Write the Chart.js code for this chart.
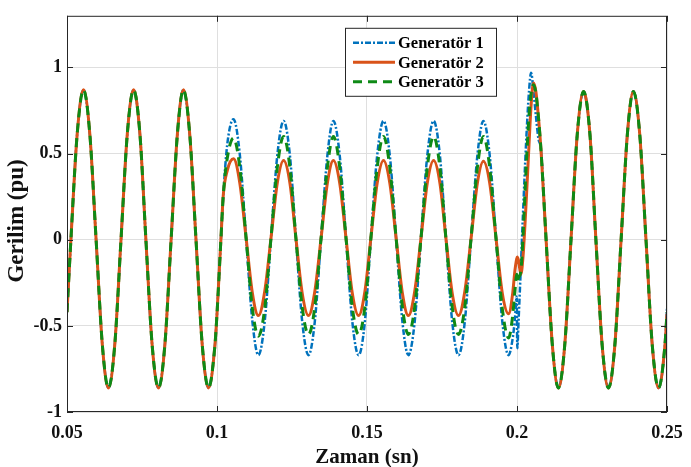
<!DOCTYPE html>
<html>
<head>
<meta charset="utf-8">
<script src="https://cdn.jsdelivr.net/npm/chart.js@4.4.1/dist/chart.umd.min.js"></script>
<style>
  html, body { margin: 0; padding: 0; background: #fff; }
  #wrap { width: 691px; height: 467px; }
</style>
</head>
<body>
<div id="wrap"><canvas id="chart" width="691" height="467"></canvas></div>
<script>
// time samples (s) and voltages (pu)
const time = [
  0.0500, 0.0513, 0.0534, 0.0555, 0.0576, 0.0597, 0.0618, 0.0638, 0.0659,
  0.0680, 0.0701, 0.0722, 0.0743, 0.0763, 0.0784, 0.0805, 0.0826,
  0.0847, 0.0868, 0.0888, 0.0909, 0.0930, 0.0951, 0.0972, 0.0993,
  0.1000, 0.1013, 0.1021, 0.1034, 0.1055, 0.1076, 0.1097, 0.1118, 0.1138, 0.1159,
  0.1180, 0.1201, 0.1222, 0.1243, 0.1263, 0.1284, 0.1305, 0.1326,
  0.1347, 0.1368, 0.1388, 0.1409, 0.1430, 0.1451, 0.1472, 0.1493,
  0.1513, 0.1534, 0.1555, 0.1576, 0.1597, 0.1618, 0.1638, 0.1659,
  0.1680, 0.1701, 0.1722, 0.1743, 0.1763, 0.1784, 0.1805, 0.1826,
  0.1847, 0.1868, 0.1888, 0.1909, 0.1930, 0.1951, 0.1972,
  0.1985, 0.1993, 0.1999, 0.2001, 0.2005, 0.2013, 0.2020, 0.2030, 0.2040, 0.2047, 0.2055, 0.2063, 0.2071, 0.2080,
  0.2097, 0.2118, 0.2138, 0.2159,
  0.2180, 0.2201, 0.2222, 0.2243, 0.2263, 0.2284, 0.2305, 0.2326,
  0.2347, 0.2368, 0.2388, 0.2409, 0.2430, 0.2451, 0.2472, 0.2493, 0.2500
];

const gen1 = [
  -0.42, 0, 0.615, 0.87, 0.615, 0, -0.615, -0.86, -0.615,
  0, 0.615, 0.87, 0.615, 0, -0.615, -0.86, -0.615,
  0, 0.615, 0.87, 0.615, 0, -0.615, -0.86, -0.615,
  -0.43, 0, 0.26, 0.55, 0.70, 0.495, 0.01, -0.475, -0.67, -0.475,
  0.01, 0.49, 0.69, 0.49, 0.01, -0.475, -0.67, -0.475,
  0.01, 0.49, 0.69, 0.49, 0.01, -0.475, -0.67, -0.475,
  0.01, 0.49, 0.69, 0.49, 0.01, -0.475, -0.67, -0.475,
  0.01, 0.49, 0.69, 0.49, 0.01, -0.475, -0.67, -0.475,
  0.01, 0.49, 0.69, 0.49, 0.01, -0.475, -0.67,
  -0.58, -0.46, -0.33, -0.63, -0.48, -0.15, 0.15, 0.55, 0.86, 0.97, 0.86, 0.72, 0.59, 0.52,
  0, -0.615, -0.86, -0.615,
  0, 0.615, 0.86, 0.615, 0, -0.615, -0.86, -0.615,
  0, 0.615, 0.86, 0.615, 0, -0.615, -0.86, -0.615, -0.40
];

const gen2 = [
  -0.42, 0, 0.615, 0.87, 0.615, 0, -0.615, -0.86, -0.615,
  0, 0.615, 0.87, 0.615, 0, -0.615, -0.86, -0.615,
  0, 0.615, 0.87, 0.615, 0, -0.615, -0.86, -0.615,
  -0.43, 0, 0.26, 0.40, 0.47, 0.33, 0.01, -0.31, -0.44, -0.30,
  0.01, 0.33, 0.46, 0.33, 0.01, -0.31, -0.44, -0.30,
  0.01, 0.33, 0.46, 0.33, 0.01, -0.31, -0.44, -0.30,
  0.01, 0.33, 0.46, 0.33, 0.01, -0.31, -0.44, -0.30,
  0.01, 0.33, 0.46, 0.33, 0.01, -0.31, -0.44, -0.30,
  0.01, 0.33, 0.455, 0.33, 0.01, -0.31, -0.43,
  -0.32, -0.18, -0.11, -0.10, -0.12, -0.20, -0.10, 0.20, 0.55, 0.78, 0.91, 0.86, 0.72, 0.52,
  0, -0.615, -0.86, -0.615,
  0, 0.615, 0.86, 0.615, 0, -0.615, -0.86, -0.615,
  0, 0.615, 0.86, 0.615, 0, -0.615, -0.86, -0.615, -0.43
];

const gen3 = [
  -0.42, 0, 0.615, 0.87, 0.615, 0, -0.615, -0.86, -0.615,
  0, 0.615, 0.87, 0.615, 0, -0.615, -0.86, -0.615,
  0, 0.615, 0.87, 0.615, 0, -0.615, -0.86, -0.615,
  -0.43, 0, 0.26, 0.47, 0.59, 0.42, 0.01, -0.40, -0.56, -0.40,
  0.01, 0.42, 0.60, 0.42, 0.01, -0.39, -0.55, -0.39,
  0.01, 0.42, 0.60, 0.42, 0.01, -0.39, -0.55, -0.39,
  0.01, 0.42, 0.60, 0.42, 0.01, -0.39, -0.55, -0.39,
  0.01, 0.42, 0.60, 0.42, 0.01, -0.39, -0.55, -0.39,
  0.01, 0.42, 0.60, 0.42, 0.01, -0.40, -0.57,
  -0.45, -0.30, -0.20, -0.24, -0.22, -0.18, 0.02, 0.40, 0.72, 0.85, 0.90, 0.85, 0.72, 0.52,
  0, -0.615, -0.86, -0.615,
  0, 0.615, 0.86, 0.615, 0, -0.615, -0.86, -0.615,
  0, 0.615, 0.86, 0.615, 0, -0.615, -0.86, -0.615, -0.42
];

const seriesNames = ["Generatör 1", "Generatör 2", "Generatör 3"];
const xTicks = [0.05, 0.1, 0.15, 0.2, 0.25];
const yTicks = [-1, -0.5, 0, 0.5, 1];
const yTitle = "Gerilim (pu)";

const serif = "'Liberation Serif', 'Times New Roman', serif";

const toPoints = (ys) => time.map((t, i) => ({ x: t, y: ys[i] }));

// box, inward tick marks, y label and the legend, MATLAB style
const framePlugin = {
  id: "frame",
  afterDraw(chart) {
    const { ctx, chartArea: a, scales } = chart;
    ctx.save();
    ctx.strokeStyle = "#262626";
    ctx.lineWidth = 1;
    ctx.strokeRect(a.left + 0.5, a.top + 0.5, a.right - a.left - 1, a.bottom - a.top - 1);
    ctx.beginPath();
    xTicks.forEach((v) => {
      const px = Math.round(scales.x.getPixelForValue(v)) + 0.5;
      ctx.moveTo(px, a.bottom); ctx.lineTo(px, a.bottom - 6);
      ctx.moveTo(px, a.top); ctx.lineTo(px, a.top + 6);
    });
    yTicks.forEach((v) => {
      const py = Math.round(scales.y.getPixelForValue(v)) + 0.5;
      ctx.moveTo(a.left, py); ctx.lineTo(a.left + 6, py);
      ctx.moveTo(a.right, py); ctx.lineTo(a.right - 6, py);
    });
    ctx.stroke();

    // y axis label (a bit below the axis centre, as in the figure)
    ctx.save();
    ctx.translate(17, (a.top + a.bottom) / 2 + 7);
    ctx.rotate(-Math.PI / 2);
    ctx.font = "bold 23px " + serif;
    ctx.fillStyle = "#111";
    ctx.textAlign = "center";
    ctx.textBaseline = "middle";
    ctx.fillText(yTitle, 0, 0);
    ctx.restore();

    // legend
    const bx = a.left + 278, by = a.top + 12, bw = 151, bh = 68;
    ctx.fillStyle = "#fff";
    ctx.fillRect(bx, by, bw, bh);
    ctx.strokeStyle = "#262626";
    ctx.strokeRect(bx + 0.5, by + 0.5, bw, bh);
    ctx.font = "bold 16.5px " + serif;
    ctx.textBaseline = "middle";
    chart.data.datasets.forEach((ds, i) => {
      const ry = by + 15 + i * 19.5;
      ctx.beginPath();
      ctx.strokeStyle = ds.borderColor;
      ctx.lineWidth = ds.borderWidth;
      ctx.setLineDash(ds.borderDash || []);
      ctx.moveTo(bx + 8, ry);
      ctx.lineTo(bx + 50, ry);
      ctx.stroke();
      ctx.setLineDash([]);
      ctx.fillStyle = "#000";
      ctx.fillText(ds.label, bx + 53, ry + 1);
    });
    ctx.restore();
  },
};

new Chart(document.getElementById("chart"), {
  type: "line",
  data: {
    datasets: [
      {
        label: seriesNames[0],
        data: toPoints(gen1),
        borderColor: "#0072BD",
        borderWidth: 2.5,
        borderDash: [6, 2, 2, 2],
        order: 3,
      },
      {
        label: seriesNames[1],
        data: toPoints(gen2),
        borderColor: "#D95319",
        borderWidth: 3,
        order: 2,
      },
      {
        label: seriesNames[2],
        data: toPoints(gen3),
        borderColor: "#0E8A16",
        borderWidth: 3,
        borderDash: [9, 6],
        order: 1,
      },
    ],
  },
  options: {
    responsive: false,
    animation: false,
    elements: {
      point: { radius: 0 },
      line: { cubicInterpolationMode: "monotone", fill: false },
    },
    layout: { padding: { top: 12, right: 24, left: 0, bottom: 0 } },
    plugins: {
      legend: { display: false },
      tooltip: { enabled: false },
    },
    scales: {
      x: {
        type: "linear",
        min: 0.05,
        max: 0.25,
        afterBuildTicks: (s) => { s.ticks = xTicks.map((v) => ({ value: v })); },
        afterFit: (s) => {
          s.height = 55;
          // keep the plot's right edge where the figure has it
          s.paddingLeft = 0;
          s.paddingRight = 0;
        },
        grid: { color: "#dfdfdf", drawTicks: false },
        border: { display: false },
        ticks: {
          padding: 11,
          color: "#111",
          font: { family: serif, size: 18, weight: "bold" },
          callback: (v) => String(v),
        },
        title: {
          display: true,
          text: "Zaman (sn)",
          color: "#111",
          padding: { top: 0, bottom: -3 },
          font: { family: serif, size: 21, weight: "bold" },
        },
      },
      y: {
        type: "linear",
        min: -1,
        max: 1.3,
        afterBuildTicks: (s) => { s.ticks = yTicks.map((v) => ({ value: v })); },
        afterFit: (s) => { s.width = 67; },
        grid: { color: "#dfdfdf", drawTicks: false },
        border: { display: false },
        ticks: {
          padding: 5,
          color: "#111",
          font: { family: serif, size: 18, weight: "bold" },
          callback: (v) => String(v),
        },
      },
    },
  },
  plugins: [framePlugin],
});
</script>
</body>
</html>
